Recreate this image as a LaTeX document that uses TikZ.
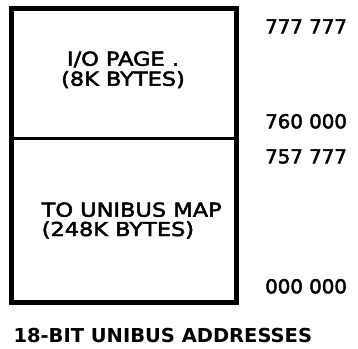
\documentclass[tikz,border=0pt]{standalone}
\usepackage{fontspec}
\setmainfont{DejaVu Sans}
\newfontfamily\boxfont[FakeStretch=1.17,FakeBold=2.5]{DejaVu Sans}
\newfontfamily\adrfont[FakeStretch=1.03,FakeBold=2.5]{DejaVu Sans}
\newfontfamily\capfont[FakeStretch=1.015]{DejaVu Sans Bold}
\begin{document}
\begin{tikzpicture}[x=1pt,y=-1pt,
  lab/.style={inner sep=0pt,font=\boxfont\fontsize{19.2}{20}\selectfont},
  adr/.style={inner sep=0pt,font=\adrfont\fontsize{19.2}{20}\selectfont},
  boldlab/.style={inner sep=0pt,font=\capfont\fontsize{19.2}{20}\selectfont}]
\useasboundingbox[fill=white] (0,0) rectangle (358,348);
\draw[line width=5.5pt] (11.3,8.3) rectangle (236.3,302.7);
\draw[line width=3.5pt] (11.3,138.5) -- (236.3,138.5);
\node[lab,anchor=base] (io1) at (123,65.7) {I/O PAGE .};
\node[lab,anchor=base] (io2) at (123,85.7) {(8K BYTES)};
\node[lab,anchor=base west] (ub1) at (41.5,216.7) {TO UNIBUS MAP};
\node[lab,anchor=base west] (ub2) at (41.5,236) {(248K BYTES)};
\node[adr,anchor=base west] (a1) at (265,33.3) {777 777};
\node[adr,anchor=base west] (a2) at (265,128.3) {760 000};
\node[adr,anchor=base west] (a3) at (265,163.3) {757 777};
\node[adr,anchor=base west] (a4) at (265,293.3) {000 000};
\node[boldlab,anchor=base west] (cap) at (13.3,342.3) {18-BIT UNIBUS ADDRESSES};
\end{tikzpicture}
\end{document}
